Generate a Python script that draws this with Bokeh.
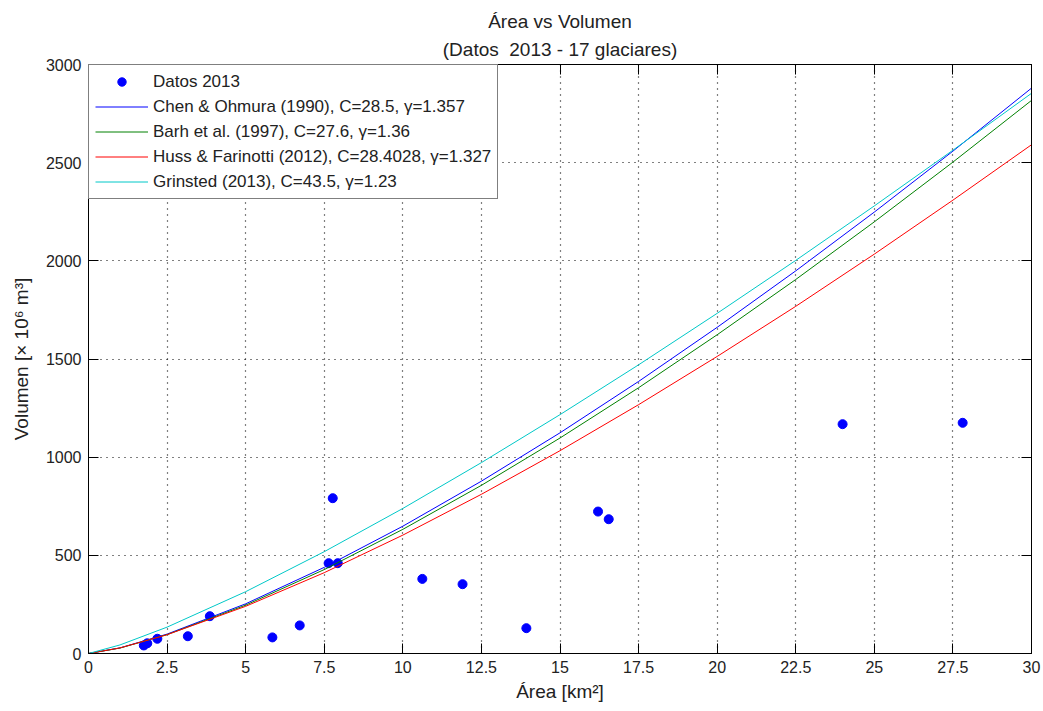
from bokeh.plotting import figure
from bokeh.models import (Range1d, FixedTicker, LinearAxis, Title, Legend, LegendItem,
                          CustomJSTickFormatter)
from bokeh.embed import file_html
from bokeh.resources import INLINE

# ---- data ----
area_2013 = [1.76, 1.87, 2.19, 3.16, 3.86, 5.85, 6.72, 7.64, 7.77, 7.93,
             10.62, 11.90, 13.93, 16.21, 16.55, 23.99, 27.81]
vol_2013 = [41, 52, 75, 88, 190, 82, 143, 460, 791, 460,
            380, 353, 129, 723, 684, 1168, 1175]

curve_area = [0, 1, 2.5, 5, 7.5, 10, 12.5, 15, 17.5, 20, 22.5, 25, 27.5, 30]
chen_ohmura = [0, 28.5, 98.8, 253.1, 438.8, 648.4, 877.8, 1124.0, 1385.7, 1661.3, 1948.9, 2248.4, 2558.7, 2879.6]
barh = [0, 27.6, 96.0, 246.3, 427.5, 632.3, 856.5, 1097.6, 1353.6, 1623.5, 1905.0, 2198.6, 2502.8, 2817.0]
huss_farinotti = [0, 28.4, 95.8, 240.3, 411.7, 603.0, 810.9, 1033.0, 1267.3, 1513.0, 1768.3, 2034.2, 2309.0, 2591.2]
grinsted = [0, 43.5, 134.3, 314.9, 518.6, 738.7, 972.2, 1216.6, 1470.3, 1732.6, 2002.3, 2279.8, 2563.5, 2853.2]

labels = ["Datos 2013",
          "Chen & Ohmura (1990), C=28.5, \u03b3=1.357",
          "Barh et al. (1997), C=27.6, \u03b3=1.36",
          "Huss & Farinotti (2012), C=28.4028, \u03b3=1.327",
          "Grinsted (2013), C=43.5, \u03b3=1.23"]

xticks = [0, 2.5, 5, 7.5, 10, 12.5, 15, 17.5, 20, 22.5, 25, 27.5, 30]
yticks = [0, 500, 1000, 1500, 2000, 2500, 3000]

FONT = "Liberation Sans"
TXT = "#222222"

p = figure(width=1043, height=711, output_backend="svg", toolbar_location=None,
           x_range=Range1d(0, 30), y_range=Range1d(0, 3000),
           min_border_left=88, min_border_right=12, min_border_top=64, min_border_bottom=58,
           background_fill_color="white", border_fill_color="white")
p.outline_line_color = "black"

fmt = CustomJSTickFormatter(code="return tick.toString();")
blank = CustomJSTickFormatter(code="return '';")

top_ax = LinearAxis()
right_ax = LinearAxis()
p.add_layout(top_ax, "above")
p.add_layout(right_ax, "right")
xax = p.below[0]
yax = p.left[0]

for ax, ticks, shown in ((xax, xticks, True), (yax, yticks, True),
                         (top_ax, xticks, False), (right_ax, yticks, False)):
    ax.ticker = FixedTicker(ticks=ticks)
    ax.major_tick_in = 10
    ax.major_tick_out = 0
    ax.minor_tick_in = 0
    ax.minor_tick_out = 0
    ax.axis_line_color = "black"
    ax.major_tick_line_color = "black"
    ax.major_label_text_font = FONT
    ax.major_label_text_color = TXT
    ax.major_label_text_font_size = "16px"
    if shown:
        ax.formatter = fmt
    else:
        ax.formatter = blank
        ax.major_label_standoff = 0

xax.major_label_standoff = 7
yax.major_label_standoff = 7

xax.axis_label = "\u00c1rea [km\u00b2]"
yax.axis_label = "Volumen [\u00d7 10\u2076 m\u00b3]"
for ax in (xax, yax):
    ax.axis_label_text_font = FONT
    ax.axis_label_text_font_size = "19px"
    ax.axis_label_text_font_style = "normal"
    ax.axis_label_text_color = TXT
xax.axis_label_standoff = 5
yax.axis_label_standoff = 11

p.xgrid.ticker = FixedTicker(ticks=xticks)
p.ygrid.ticker = FixedTicker(ticks=yticks)
for g in (p.xgrid, p.ygrid):
    g.grid_line_color = "black"
    g.grid_line_dash = "1 5"
    g.grid_line_width = 1.2

p.title.text = "\u00c1rea vs Volumen"
p.title.align = "center"
p.title.text_font = FONT
p.title.text_font_size = "19px"
p.title.text_font_style = "normal"
p.title.text_color = TXT
p.title.standoff = 0
p.add_layout(Title(text="(Datos\u00a0 2013 - 17 glaciares)", align="center", text_font=FONT,
                   text_font_size="19px", text_font_style="normal", text_color=TXT,
                   standoff=10), "above")

pts = p.scatter(area_2013, vol_2013, size=9, color="#0000ff")
l1 = p.line(curve_area, chen_ohmura, color="#0000ff", line_width=1)
l2 = p.line(curve_area, barh, color="#008000", line_width=1)
l3 = p.line(curve_area, huss_farinotti, color="#ff0000", line_width=1)
l4 = p.line(curve_area, grinsted, color="#00c8c8", line_width=1)

legend = Legend(items=[LegendItem(label=labels[0], renderers=[pts]),
                       LegendItem(label=labels[1], renderers=[l1]),
                       LegendItem(label=labels[2], renderers=[l2]),
                       LegendItem(label=labels[3], renderers=[l3]),
                       LegendItem(label=labels[4], renderers=[l4])],
                location="top_left")
legend.margin = 0
legend.padding = 6
legend.spacing = 4
legend.glyph_width = 53
legend.glyph_height = 21
legend.label_height = 21
legend.label_standoff = 5
legend.label_text_font = FONT
legend.label_text_font_size = "17px"
legend.label_text_color = TXT
legend.border_line_color = "black"
legend.border_line_width = 1
legend.background_fill_color = "white"
legend.background_fill_alpha = 1
p.add_layout(legend, "center")

open("out.html", "w").write(file_html(p, INLINE))
